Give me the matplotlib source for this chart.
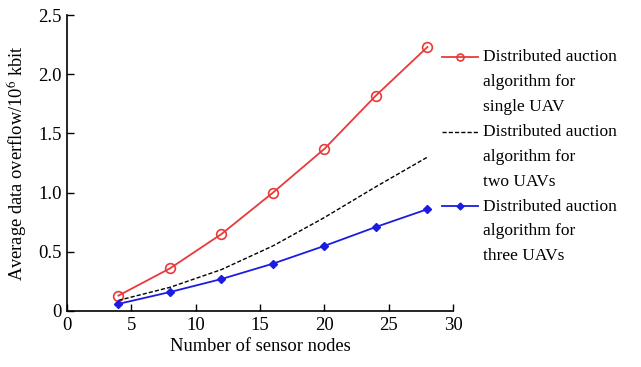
import matplotlib
matplotlib.use("Agg")
import numpy as np
import matplotlib.pyplot as plt
from matplotlib.legend_handler import HandlerLine2D

# sensor-node counts and average overflow (10^6 kbit) per scheme
nodes = [4, 8, 12, 16, 20, 24, 28]
single_uav = [0.13, 0.36, 0.65, 1.00, 1.37, 1.82, 2.23]
two_uavs = [0.09, 0.20, 0.35, 0.55, 0.79, 1.05, 1.30]
three_uavs = [0.06, 0.16, 0.27, 0.40, 0.55, 0.71, 0.86]

labels = [
    "Distributed auction\nalgorithm for\nsingle UAV",
    "Distributed auction\nalgorithm for\ntwo UAVs",
    "Distributed auction\nalgorithm for\nthree UAVs",
]

LINE_STEP_PT = 18.0   # one text line in the legend, in points


class FirstLineHandler(HandlerLine2D):
    """Put the legend sample next to the first line of a wrapped label."""

    def create_artists(self, legend, orig_handle, xdescent, ydescent,
                       width, height, fontsize, trans):
        artists = super().create_artists(legend, orig_handle, xdescent,
                                         ydescent, width, height, fontsize,
                                         trans)
        for a in artists:
            a.set_ydata(np.asarray(a.get_ydata()) + LINE_STEP_PT)
        return artists


plt.rcParams["font.family"] = ["Liberation Serif", "DejaVu Serif"]
plt.rcParams["mathtext.fontset"] = "stix"

fig = plt.figure(figsize=(6.41, 3.67), dpi=100)
ax = fig.add_axes([0.1045, 0.1526, 0.6025, 0.8064])

l1, = ax.plot(nodes, single_uav, color="#e83a3a", lw=1.3, marker="o", ms=7,
              mfc="none", mew=1.2, label=labels[0])
l2, = ax.plot(nodes, two_uavs, color="black", lw=1.0, ls=(0, (3, 1.5)),
              label=labels[1])
l3, = ax.plot(nodes, three_uavs, color="#1c1ce0", lw=1.3, marker="D", ms=4,
              label=labels[2])

ax.set_xlim(0, 30)
ax.set_ylim(0, 2.5)
ax.set_xticks([0, 5, 10, 15, 20, 25, 30])
ax.set_yticks([0, 0.5, 1.0, 1.5, 2.0, 2.5])
ax.set_yticklabels(["0", "0.5", "1.0", "1.5", "2.0", "2.5"])
ax.tick_params(direction="in", length=5, width=1.0, labelsize=13.5, pad=4)

for side in ("top", "right"):
    ax.spines[side].set_visible(False)
for side in ("left", "bottom"):
    ax.spines[side].set_linewidth(1.2)

ax.set_xlabel("Number of sensor nodes", fontsize=13.3, labelpad=3)
ax.set_ylabel(r"Average data overflow/10$^6$ kbit", fontsize=13.3, labelpad=6)

handler = FirstLineHandler()
leg = ax.legend(loc="upper left", bbox_to_anchor=(0.6895, 1 - 49 / 367),
                bbox_transform=fig.transFigure, frameon=False,
                fontsize=12.5, handlelength=2.05, handletextpad=0.3,
                labelspacing=0.52, borderaxespad=0, borderpad=0,
                handler_map={l1: handler, l2: handler, l3: handler})
for t in leg.get_texts():
    t.set_linespacing(1.74)
# smaller markers on the legend samples
for h, ms in zip(leg.legend_handles, (5, 0, 3.5)):
    if ms:
        h.set_markersize(ms)

fig.savefig("out.png", dpi=100)
